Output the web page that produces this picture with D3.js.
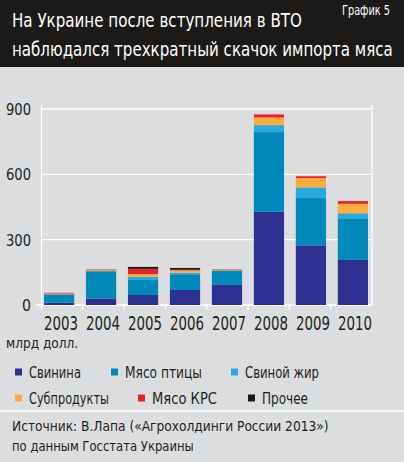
<!DOCTYPE html>
<html>
<head>
<meta charset="utf-8">
<script src="https://cdn.jsdelivr.net/npm/d3@7"></script>
<style>
  body { margin: 0; background: #dcdddf; }
  svg { display: block; }
  text { font-family: "Liberation Sans Narrow", "DejaVu Sans Condensed", "Roboto", sans-serif; font-stretch: condensed; }
</style>
</head>
<body>
<div id="chart"></div>
<script>
// импорт мяса, млн долл.
const years = ['2003', '2004', '2005', '2006', '2007', '2008', '2009', '2010'];
const seriesNames = ['Свинина', 'Мясо птицы', 'Свиной жир', 'Субпродукты', 'Мясо КРС', 'Прочее'];
const pork    = [10, 30, 46, 69, 92, 428, 274, 207];
const poultry = [39, 125, 72, 72, 66, 366, 217, 188];
const lard    = [0, 1, 12, 7, 1, 32, 49, 26];
const offal   = [4, 4, 12, 11, 4, 35, 43, 44];
const beef    = [3, 3, 24, 3, 2, 14, 8, 12];
const other   = [0, 0, 9, 8, 0, 0, 0, 0];
const yTicks  = [0, 300, 600, 900];

const colors = ['#2e3092', '#0088bb', '#2aa9e0', '#f8ad3d', '#e8202a', '#1a1a1a'];

const W = 404, H = 462;
const svg = d3.select('#chart').append('svg')
  .attr('width', W)
  .attr('height', H);

// squeeze a text horizontally to the width it has in the picture
function fit(sel, target) {
  sel.each(function (d, i) {
    const t = typeof target === 'function' ? target(d, i) : target;
    const w = this.getComputedTextLength();
    const x = +this.getAttribute('x') || 0;
    const y = +this.getAttribute('y') || 0;
    const k = Math.min(1, t / w);
    d3.select(this)
      .attr('x', 0).attr('y', 0)
      .attr('transform', `translate(${x},${y}) scale(${k},1)`);
  });
  return sel;
}

svg.append('rect').attr('width', W).attr('height', H).attr('fill', '#dcdddf');

// шапка
svg.append('rect').attr('width', W).attr('height', 67).attr('fill', '#1c1a19');
svg.append('text')
  .attr('x', 12).attr('y', 27)
  .attr('fill', '#fff').style('font-size', '20px')
  .text('На Украине после вступления в ВТО')
  .call(fit, 290);
svg.append('text')
  .attr('x', 12).attr('y', 56)
  .attr('fill', '#fff').style('font-size', '20px')
  .text('наблюдался трехкратный скачок импорта мяса')
  .call(fit, 381);
svg.append('text')
  .attr('x', 342).attr('y', 15)
  .attr('fill', '#fff').style('font-size', '14.5px')
  .text('График 5')
  .call(fit, 48);

// данные для стека
const cols = [pork, poultry, lard, offal, beef, other];
const table = years.map((y, i) => {
  const row = { year: y };
  seriesNames.forEach((n, k) => { row[n] = cols[k][i]; });
  return row;
});
const stacked = d3.stack().keys(seriesNames)(table);

const frame = d3.scaleBand().domain(years).range([41.5, 372]);
const x = d3.scaleBand().domain(years).range([44, 368]).paddingInner(0.28).paddingOuter(0);
const y = d3.scaleLinear().domain([0, 900]).range([305, 109]);

const plot = svg.append('g');

// сетка
plot.selectAll('.grid')
  .data(yTicks)
  .join('line')
  .attr('class', 'grid')
  .attr('x1', d => d === 0 ? 36 : 41.5)
  .attr('x2', 372)
  .attr('y1', d => y(d)).attr('y2', d => y(d))
  .attr('stroke', '#fff').attr('stroke-width', 1.3);

plot.append('line')
  .attr('x1', 41.5).attr('x2', 41.5)
  .attr('y1', y(900) - 4).attr('y2', y(0) + 5)
  .attr('stroke', '#fff').attr('stroke-width', 1.3);
plot.append('line')
  .attr('x1', 372).attr('x2', 372)
  .attr('y1', y(900) - 4).attr('y2', y(0))
  .attr('stroke', '#fff').attr('stroke-width', 1.3);

plot.selectAll('.tick')
  .data(years.slice(1))
  .join('line')
  .attr('class', 'tick')
  .attr('x1', d => frame(d)).attr('x2', d => frame(d))
  .attr('y1', y(0)).attr('y2', y(0) + 5)
  .attr('stroke', '#fff').attr('stroke-width', 1.3);

// столбцы
plot.selectAll('.layer')
  .data(stacked)
  .join('g')
  .attr('class', 'layer')
  .attr('fill', (d, i) => colors[i])
  .selectAll('rect')
  .data(d => d)
  .join('rect')
  .attr('x', d => x(d.data.year))
  .attr('width', x.bandwidth())
  .attr('y', d => y(d[1]))
  .attr('height', d => y(d[0]) - y(d[1]));

// подписи осей
svg.selectAll('.ylab')
  .data(yTicks)
  .join('text')
  .attr('class', 'ylab')
  .attr('x', 31).attr('y', d => y(d) + 6)
  .attr('text-anchor', 'end')
  .attr('fill', '#231f20').style('font-size', '16px')
  .text(d => d)
  .call(fit, d => d === 0 ? 9 : 25);

svg.selectAll('.xlab')
  .data(years)
  .join('text')
  .attr('class', 'xlab')
  .attr('x', d => x(d) + x.bandwidth() / 2 + 2)
  .attr('y', 330)
  .attr('text-anchor', 'middle')
  .attr('fill', '#231f20').style('font-size', '19px')
  .text(d => d)
  .call(fit, 34);

svg.append('text')
  .attr('x', 6).attr('y', 348)
  .attr('fill', '#231f20').style('font-size', '13.5px')
  .text('млрд долл.')
  .call(fit, 83);

// легенда
const legendPos = [
  { x: 15, y: 372, w: 52 },
  { x: 111, y: 372, w: 77 },
  { x: 231, y: 372, w: 74 },
  { x: 15, y: 398, w: 80 },
  { x: 138, y: 398, w: 65 },
  { x: 248, y: 398, w: 46 }
];
const legend = svg.selectAll('.legend')
  .data(seriesNames)
  .join('g')
  .attr('class', 'legend')
  .attr('transform', (d, i) => `translate(${legendPos[i].x},${legendPos[i].y})`);
legend.append('rect')
  .attr('x', 0).attr('y', -3.5)
  .attr('width', 7).attr('height', 7)
  .attr('fill', (d, i) => colors[i]);
legend.append('text')
  .attr('x', 14).attr('y', 6)
  .attr('fill', '#231f20').style('font-size', '16px')
  .text(d => d)
  .call(fit, (d, i) => legendPos[i].w);

svg.append('line')
  .attr('x1', 0).attr('x2', W)
  .attr('y1', 411).attr('y2', 411)
  .attr('stroke', '#fff').attr('stroke-width', 1.3);

// источник
svg.append('text')
  .attr('x', 12).attr('y', 431)
  .attr('fill', '#231f20').style('font-size', '14.5px')
  .text('Источник: В.Лапа («Агрохолдинги России 2013»)')
  .call(fit, 317);
svg.append('text')
  .attr('x', 12).attr('y', 451)
  .attr('fill', '#231f20').style('font-size', '14.5px')
  .text('по данным Госстата Украины')
  .call(fit, 182);
</script>
</body>
</html>
